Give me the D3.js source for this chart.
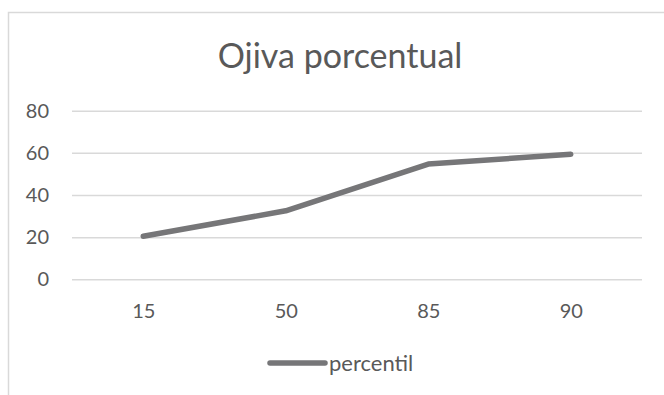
<!DOCTYPE html>
<html>
<head>
<meta charset="utf-8">
<script src="https://cdn.jsdelivr.net/npm/d3@7"></script>
<style>
  html, body { margin: 0; padding: 0; background: #fff; }
  svg { display: block; }
  text { font-family: Lato, "Noto Sans", sans-serif; fill: #595959; }
</style>
</head>
<body>
<svg id="chart" width="664" height="395"></svg>
<script>
// Percentile ogive data
const categories = ["15", "50", "85", "90"];
const percentil = [20.4, 32.5, 54.7, 59.3];
const yTicks = [0, 20, 40, 60, 80];
const seriesName = "percentil";
const titleText = "Ojiva porcentual";

const svg = d3.select("#chart");
const plot = { left: 72, right: 642, top: 110.7, bottom: 279.3 };
const lineColor = "#767678";

// Outer chart frame
svg.append("rect")
  .attr("x", 8.5).attr("y", 12.5)
  .attr("width", 700).attr("height", 500)
  .attr("fill", "#fff")
  .attr("stroke", "#d9d9d9").attr("stroke-width", 1.5);

const x = d3.scalePoint().domain(categories).range([plot.left, plot.right]).padding(0.5);
const y = d3.scaleLinear().domain([0, 80]).range([plot.bottom, plot.top]);

// Title
svg.append("text")
  .attr("x", 340).attr("y", 68)
  .attr("text-anchor", "middle")
  .style("font-size", "34px")
  .text(titleText);

// Y axis with horizontal gridlines
const yAxis = svg.append("g")
  .attr("transform", `translate(${plot.left},0)`)
  .call(d3.axisLeft(y).tickValues(yTicks)
    .tickSizeInner(-(plot.right - plot.left)).tickSizeOuter(0).tickPadding(23));
yAxis.select(".domain").remove();
yAxis.selectAll(".tick line").attr("stroke", "#d9d9d9").attr("stroke-width", 1.5);
yAxis.selectAll(".tick text").style("font-size", "20px").attr("fill", "#595959")
  .style("font-family", "Lato, 'Noto Sans', sans-serif");

// X axis labels
const xAxis = svg.append("g")
  .attr("transform", `translate(0,${plot.bottom})`)
  .call(d3.axisBottom(x).tickSize(0).tickPadding(25));
xAxis.select(".domain").remove();
xAxis.selectAll(".tick text").style("font-size", "20px").attr("fill", "#595959")
  .style("font-family", "Lato, 'Noto Sans', sans-serif");

// Series line
const line = d3.line().x((d, i) => x(categories[i])).y(d => y(d));
svg.append("path")
  .datum(percentil)
  .attr("d", line)
  .attr("fill", "none")
  .attr("stroke", lineColor)
  .attr("stroke-width", 5.5)
  .attr("stroke-linecap", "round")
  .attr("stroke-linejoin", "round");

// Legend
const legend = svg.append("g").attr("transform", "translate(270,363)");
legend.append("line")
  .attr("x1", 0).attr("x2", 55).attr("y1", 0).attr("y2", 0)
  .attr("stroke", lineColor).attr("stroke-width", 5.5)
  .attr("stroke-linecap", "round");
legend.append("text")
  .attr("x", 59).attr("y", 7.5)
  .style("font-size", "22px")
  .text(seriesName);
</script>
</body>
</html>
